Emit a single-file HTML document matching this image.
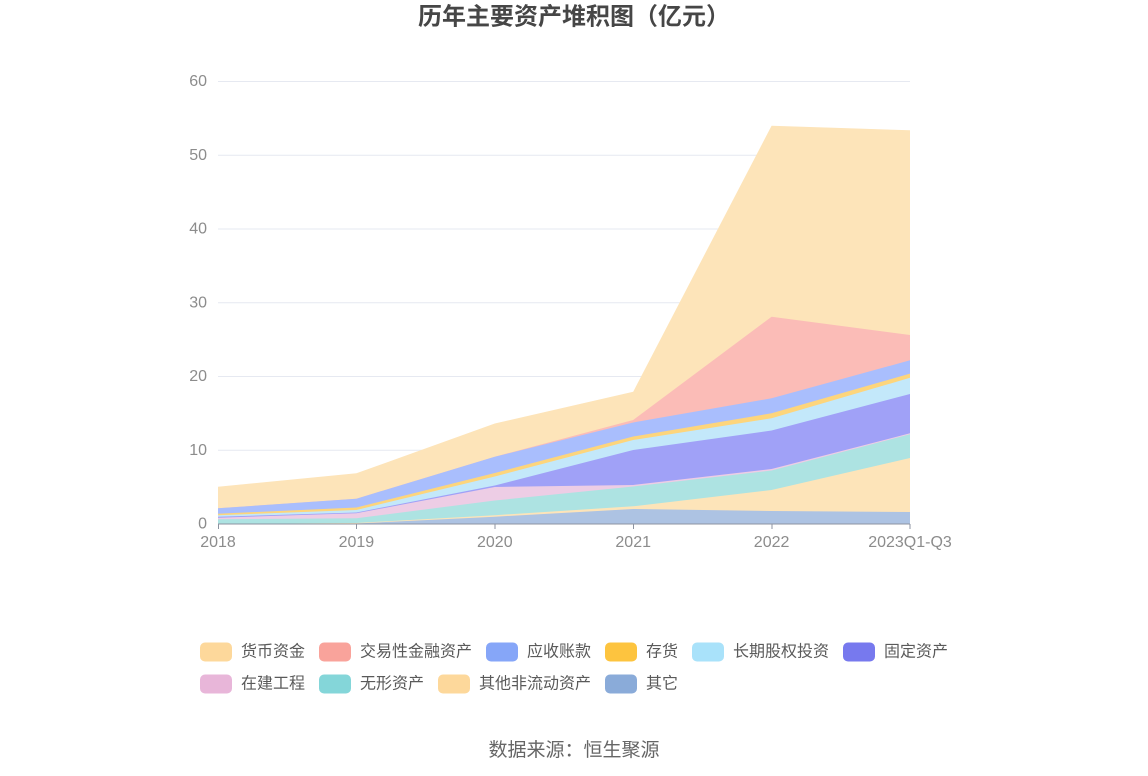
<!DOCTYPE html>
<html>
<head>
<meta charset="utf-8">
<style>
  html,body{margin:0;padding:0;background:#fff;}
  svg{display:block;}
  text{font-family:"Liberation Sans","Noto Sans CJK SC",sans-serif;}
</style>
</head>
<body>
<svg width="1148" height="776" viewBox="0 0 1148 776" xmlns="http://www.w3.org/2000/svg">
  <rect width="1148" height="776" fill="#ffffff"/>
  <!-- Title -->
  <text x="574" y="17" text-anchor="middle" dominant-baseline="central" font-size="24" font-weight="bold" fill="#464646">历年主要资产堆积图（亿元）</text>

  <!-- Grid lines -->
  <g stroke="#e6e9f1" stroke-width="1">
    <line x1="218" y1="81.5" x2="910" y2="81.5"/>
    <line x1="218" y1="155.25" x2="910" y2="155.25"/>
    <line x1="218" y1="229" x2="910" y2="229"/>
    <line x1="218" y1="302.75" x2="910" y2="302.75"/>
    <line x1="218" y1="376.5" x2="910" y2="376.5"/>
    <line x1="218" y1="450.25" x2="910" y2="450.25"/>
  </g>

  <!-- Y labels -->
  <g font-size="16" fill="#8c8c8c" text-anchor="end">
    <text x="207" y="81.5" dominant-baseline="central">60</text>
    <text x="207" y="155.25" dominant-baseline="central">50</text>
    <text x="207" y="229" dominant-baseline="central">40</text>
    <text x="207" y="302.75" dominant-baseline="central">30</text>
    <text x="207" y="376.5" dominant-baseline="central">20</text>
    <text x="207" y="450.25" dominant-baseline="central">10</text>
    <text x="207" y="524" dominant-baseline="central">0</text>
  </g>

  <!-- Stacked areas (drawn from top layer down to baseline) -->
  <g stroke="none">
    <!-- 货币资金 -->
    <polygon fill="#fde4b9" points="218,486.7 356.4,473.3 494.8,423.5 633.2,391.7 771.6,125.7 910,130.3 910,524 218,524"/>
    <!-- 交易性金融资产 -->
    <polygon fill="#fbbcb7" points="218,508.3 356.4,498.7 494.8,456.7 633.2,420 771.6,316.7 910,335 910,524 218,524"/>
    <!-- 应收账款 -->
    <polygon fill="#a9befd" points="218,508.3 356.4,498.7 494.8,456.7 633.2,422.5 771.6,398.3 910,360.3 910,524 218,524"/>
    <!-- 存货 -->
    <polygon fill="#fdd57c" points="218,513.7 356.4,507.5 494.8,473 633.2,436.5 771.6,413.3 910,373.6 910,524 218,524"/>
    <!-- 长期股权投资 -->
    <polygon fill="#c3e8fa" points="218,515.3 356.4,510 494.8,476.5 633.2,440 771.6,418.3 910,377.8 910,524 218,524"/>
    <!-- 固定资产 -->
    <polygon fill="#a0a1f7" points="218,516.7 356.4,512.5 494.8,485.5 633.2,450 771.6,430.5 910,394 910,524 218,524"/>
    <!-- 在建工程 -->
    <polygon fill="#edcde5" points="218,517.7 356.4,513.3 494.8,487 633.2,485 771.6,469 910,433.3 910,524 218,524"/>
    <!-- 无形资产 -->
    <polygon fill="#ade3e2" points="218,519.3 356.4,518.3 494.8,500.5 633.2,486.5 771.6,470.5 910,434.2 910,524 218,524"/>
    <!-- 其他非流动资产 -->
    <polygon fill="#fde4b9" points="218,524 356.4,523 494.8,515.2 633.2,506.3 771.6,490 910,458 910,524 218,524"/>
    <!-- 其它 -->
    <polygon fill="#adc3e3" points="218,524 356.4,523.5 494.8,516.7 633.2,509 771.6,511 910,512 910,524 218,524"/>
  </g>

  <!-- X axis -->
  <line x1="218" y1="524" x2="910" y2="524" stroke="#8d93a0" stroke-width="1"/>
  <g stroke="#8d93a0" stroke-width="1">
    <line x1="218.5" y1="524" x2="218.5" y2="529"/>
    <line x1="356.5" y1="524" x2="356.5" y2="529"/>
    <line x1="495" y1="524" x2="495" y2="529"/>
    <line x1="633.5" y1="524" x2="633.5" y2="529"/>
    <line x1="772" y1="524" x2="772" y2="529"/>
    <line x1="910" y1="524" x2="910" y2="529"/>
  </g>
  <g font-size="16" fill="#8c8c8c" text-anchor="middle">
    <text x="218" y="542.5" dominant-baseline="central">2018</text>
    <text x="356.4" y="542.5" dominant-baseline="central">2019</text>
    <text x="494.8" y="542.5" dominant-baseline="central">2020</text>
    <text x="633.2" y="542.5" dominant-baseline="central">2021</text>
    <text x="771.6" y="542.5" dominant-baseline="central">2022</text>
    <text x="910" y="542.5" dominant-baseline="central">2023Q1-Q3</text>
  </g>

  <!-- Legend -->
  <g font-size="16" fill="#5a5a5a">
    <rect x="200" y="642.5" width="32" height="19" rx="5" fill="#fdd89b"/>
    <text x="241" y="652" dominant-baseline="central">货币资金</text>
    <rect x="319" y="642.5" width="32" height="19" rx="5" fill="#f9a39b"/>
    <text x="360" y="652" dominant-baseline="central">交易性金融资产</text>
    <rect x="486" y="642.5" width="32" height="19" rx="5" fill="#86a6f8"/>
    <text x="527" y="652" dominant-baseline="central">应收账款</text>
    <rect x="605" y="642.5" width="32" height="19" rx="5" fill="#fdc43f"/>
    <text x="646" y="652" dominant-baseline="central">存货</text>
    <rect x="692" y="642.5" width="32" height="19" rx="5" fill="#a9e2fa"/>
    <text x="733" y="652" dominant-baseline="central">长期股权投资</text>
    <rect x="843" y="642.5" width="32" height="19" rx="5" fill="#7779ee"/>
    <text x="884" y="652" dominant-baseline="central">固定资产</text>

    <rect x="200" y="674.5" width="32" height="19" rx="5" fill="#e8b6d9"/>
    <text x="241" y="684" dominant-baseline="central">在建工程</text>
    <rect x="319" y="674.5" width="32" height="19" rx="5" fill="#84d6d9"/>
    <text x="360" y="684" dominant-baseline="central">无形资产</text>
    <rect x="438" y="674.5" width="32" height="19" rx="5" fill="#fdd89b"/>
    <text x="479" y="684" dominant-baseline="central">其他非流动资产</text>
    <rect x="605" y="674.5" width="32" height="19" rx="5" fill="#8aabd9"/>
    <text x="646" y="684" dominant-baseline="central">其它</text>
  </g>

  <!-- Source -->
  <text x="574" y="750.5" text-anchor="middle" dominant-baseline="central" font-size="19" fill="#666666">数据来源：恒生聚源</text>
</svg>
</body>
</html>
